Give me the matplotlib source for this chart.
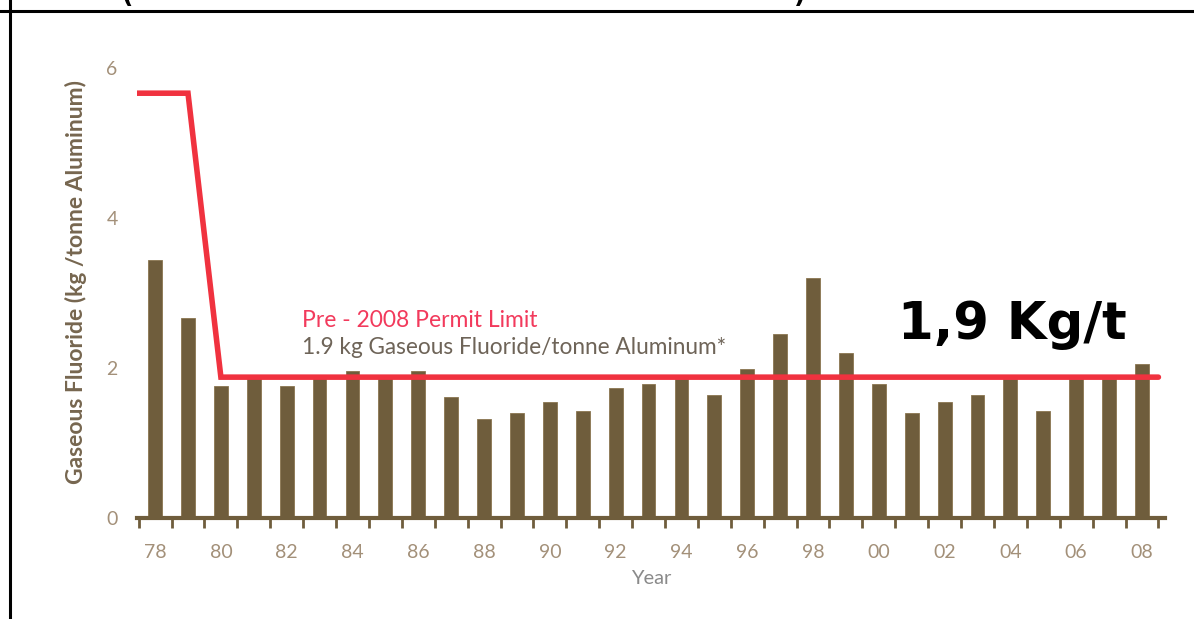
"""
Gaseous fluoride emissions vs. pre-2008 permit limit.
"""

import matplotlib
matplotlib.use("Agg")
import matplotlib.pyplot as plt
from matplotlib.lines import Line2D

# data (years as 78..108 -> 1978..2008)
years = list(range(78, 109))
fluoride = [3.44, 2.67, 1.76, 1.88, 1.76, 1.88, 1.96, 1.88, 1.96, 1.61,
            1.32, 1.40, 1.55, 1.43, 1.73, 1.79, 1.85, 1.64, 1.99, 2.45,
            3.21, 2.20, 1.79, 1.40, 1.55, 1.64, 1.85, 1.43, 1.85, 1.85,
            2.05]
limit_x = [77.45, 79.0, 80.0, 108.5]
limit_y = [5.67, 5.67, 1.88, 1.88]
tick_years = list(range(78, 109, 2))
tick_labels = [f"{y % 100:02d}" for y in tick_years]
y_ticks = [0, 2, 4, 6]

BAR = "#6f5d3c"
TICK = "#a39079"
RED = "#f0323f"

fig = plt.figure(figsize=(11.94, 6.19), dpi=100)
ax = fig.add_axes([137 / 1194, 101 / 619, 1028 / 1194, 472 / 619])

ax.bar(years, fluoride, width=0.42, color=BAR, edgecolor="#8a7550",
       linewidth=0.6, zorder=2)
ax.plot(limit_x, limit_y, color=RED, lw=4, solid_capstyle="round",
        solid_joinstyle="miter", zorder=3)

ax.set_xlim(77.45, 108.7)
ax.set_ylim(0, 6.3)

for s in ["top", "right", "left"]:
    ax.spines[s].set_visible(False)
ax.spines["bottom"].set_color(BAR)
ax.spines["bottom"].set_linewidth(3)

# minor ticks between bars, labels on even years without marks
ax.set_xticks(tick_years)
ax.set_xticklabels(tick_labels)
ax.set_xticks([y + 0.5 for y in range(77, 109)], minor=True)
ax.tick_params(axis="x", which="major", length=0, pad=19,
               labelsize=14, labelcolor=TICK)
ax.tick_params(axis="x", which="minor", length=7, width=2, color=BAR,
               direction="out")
ax.set_yticks(y_ticks)
ax.tick_params(axis="y", length=0, pad=14, labelsize=14, labelcolor=TICK)
for lab in ax.get_xticklabels() + ax.get_yticklabels():
    lab.set_fontfamily("Lato")

ax.set_ylabel("Gaseous Fluoride (kg /tonne Aluminum)", fontsize=16.5,
              color="#76664f", family="Lato", fontweight="bold",
              labelpad=14)
ax.set_xlabel("Year", fontsize=14.5, color="#8a8a8a", family="Lato",
              labelpad=6)

ax.text(82.47, 2.63, "Pre - 2008 Permit Limit", color="#f23a5c",
        fontsize=16.5, family="Lato", va="center", ha="left")
ax.text(82.47, 2.28, "1.9 kg Gaseous Fluoride/tonne Aluminum*",
        color="#6e6458", fontsize=16.3, family="Lato", va="center",
        ha="left")
ax.text(100.58, 2.57, "1,9 Kg/t", color="black", fontsize=37,
        family="DejaVu Sans", fontweight="bold", va="center", ha="left")

# title parentheses, mostly above the visible area as in the source
fig.text(128 / 1194, 1 + 4 / 619, "(", fontsize=18, va="center",
         ha="center", fontweight="bold")
fig.text(800 / 1194, 1 + 4 / 619, ")", fontsize=18, va="center",
         ha="center", fontweight="bold")

# frame lines
fig.add_artist(Line2D([0, 1193 / 1194], [1 - 11 / 619, 1 - 11 / 619],
                      transform=fig.transFigure, color="black", lw=2.2))
fig.add_artist(Line2D([10 / 1194, 10 / 1194], [0, 1],
                      transform=fig.transFigure, color="black", lw=2.2))

fig.savefig("out.png", dpi=100)
